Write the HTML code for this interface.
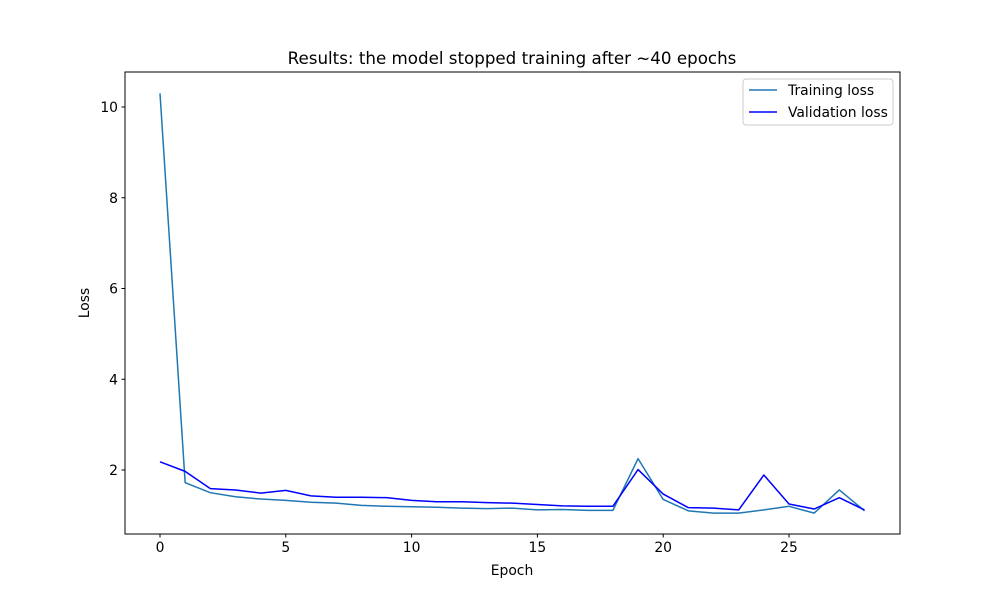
<!DOCTYPE html>
<html><head><meta charset="utf-8"><style>
body{margin:0;background:#fff;}
svg text{font-family:"DejaVu Sans","Liberation Sans",sans-serif;fill:#000;}
</style></head><body>
<svg id="chart" width="1000" height="600" viewBox="0 0 1000 600" xmlns="http://www.w3.org/2000/svg">
<rect width="1000" height="600" fill="#fff"/>
<text x="512" y="64" font-size="16.7" text-anchor="middle">Results: the model stopped training after ~40 epochs</text>
<g id="plot"></g>
<rect x="125" y="72" width="775" height="462" fill="none" stroke="#000" stroke-width="1"/>
<text x="512" y="575" font-size="13.9" text-anchor="middle">Epoch</text>
<text x="89" y="303" font-size="13.9" text-anchor="middle" transform="rotate(-90 89 303)">Loss</text>
<g>
<rect x="743" y="79" width="150" height="46" rx="3" fill="#fff" stroke="#ccc"/>
<line x1="749" y1="90" x2="777" y2="90" stroke="#1f77b4" stroke-width="1.5"/>
<text x="788" y="95" font-size="13.9">Training loss</text>
<line x1="749" y1="112" x2="777" y2="112" stroke="#0000ff" stroke-width="1.5"/>
<text x="788" y="117" font-size="13.9">Validation loss</text>
</g>
</svg>
<script>
const epochs = [0,1,2,3,4,5,6,7,8,9,10,11,12,13,14,15,16,17,18,19,20,21,22,23,24,25,26,27,28];
const trainingLoss = [10.3,1.72,1.5,1.41,1.36,1.33,1.29,1.27,1.22,1.2,1.19,1.18,1.16,1.15,1.16,1.12,1.13,1.11,1.11,2.25,1.35,1.1,1.05,1.05,1.12,1.2,1.05,1.56,1.1];
const validationLoss = [2.18,1.97,1.59,1.56,1.49,1.55,1.43,1.4,1.4,1.39,1.33,1.3,1.3,1.28,1.27,1.24,1.21,1.2,1.2,2.01,1.47,1.17,1.16,1.12,1.89,1.25,1.14,1.39,1.12];
const xTicks = [0,5,10,15,20,25];
const yTicks = [2,4,6,8,10];

const NS = "http://www.w3.org/2000/svg";
const g = document.getElementById('plot');
function xs(v){return 160 + v*25.16;}
function ys(v){return 560.75 - v*45.375;}
function mk(tag, attrs){const e=document.createElementNS(NS,tag);for(const k in attrs)e.setAttribute(k,attrs[k]);g.appendChild(e);return e;}

xTicks.forEach(t=>{
  const l=mk('line',{x1:xs(t),x2:xs(t),y1:534,y2:537.5,stroke:'#000'});
  
  
  const tx=mk('text',{x:xs(t),y:552,'font-size':13.9,'text-anchor':'middle'});
  tx.textContent=t;
  
  
});
yTicks.forEach(t=>{
  const l=mk('line',{x1:121.5,x2:125,y1:ys(t),y2:ys(t),stroke:'#000'});
  
  
  const tx=mk('text',{x:118,y:ys(t)+5,'font-size':13.9,'text-anchor':'end'});
  tx.textContent=t;
  
  
});
function line(vals,color,name){
  const p=mk('polyline',{points:vals.map((v,i)=>xs(epochs[i])+','+ys(v)).join(' '),fill:'none',stroke:color,'stroke-width':1.5,'stroke-linejoin':'round'});
  
  
}
line(trainingLoss,'#1f77b4','training-loss-line');
line(validationLoss,'#0000ff','validation-loss-line');
</script>
</body></html>
